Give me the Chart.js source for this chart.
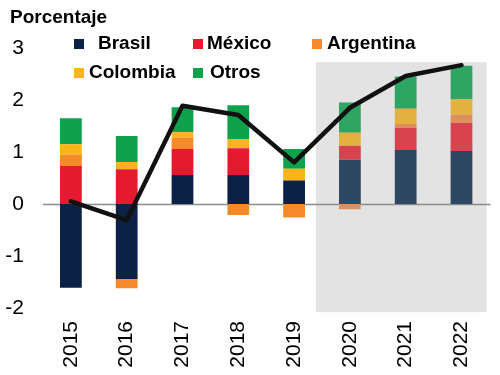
<!DOCTYPE html>
<html><head><meta charset="utf-8">
<script src="https://cdn.jsdelivr.net/npm/chart.js@4/dist/chart.umd.min.js"></script>
<style>
html,body{margin:0;padding:0;background:#fff;}
#wrap{position:relative;width:500px;height:375px;font-family:"Liberation Sans",Arial,sans-serif;overflow:hidden;}
canvas{position:absolute;left:0;top:0;}
.t{position:absolute;font-weight:bold;font-size:19px;line-height:19px;color:#000;white-space:pre;}
.sq{position:absolute;width:10px;height:10px;}
</style></head><body>
<div id="wrap"><canvas id="c" width="500" height="375"></canvas></div>
<script>
// ---- data ----
const years = ['2015','2016','2017','2018','2019','2020','2021','2022'];
const seriesNames = ['Brasil','México','Argentina','Colombia','Otros'];
const brasil    = [-1.61,-1.44,0.56,0.56,0.45,0.85,1.04,1.02];
const mexico    = [0.73,0.67,0.50,0.51,0.00,0.27,0.42,0.54];
const argentina = [0.22,-0.18,0.22,-0.21,-0.26,-0.10,0.08,0.16];
const colombia  = [0.20,0.14,0.10,0.18,0.23,0.25,0.29,0.29];
const otros     = [0.50,0.50,0.48,0.65,0.38,0.58,0.62,0.65];
const total     = [0.05,-0.31,1.89,1.71,0.80,1.85,2.46,2.67];
const yTicks    = [3,2,1,0,-1,-2];
const yAxisTitle = 'Porcentaje';
const forecastFrom = 5; // index of first projected year (2020)

// ---- styles ----
const histColors = ['#0b2145','#e5192f','#f58a2b','#fbb518','#10a14c'];
const projColors = ['#2e4864','#d9434f','#df8f5b','#e3b13f','#2fa564'];
const seriesValues = [brasil, mexico, argentina, colombia, otros];

const colorFor = (s) => years.map((_, i) => i >= forecastFrom ? projColors[s] : histColors[s]);

// legend (HTML, real text)
const wrap = document.getElementById('wrap');
const title = document.createElement('div');
title.className = 't'; title.textContent = yAxisTitle;
title.style.left = '10px'; title.style.top = '7px';
wrap.appendChild(title);
const legendPos = [
  {sx:74, sy:39, tx:98, ty:33},
  {sx:193, sy:39, tx:207, ty:33},
  {sx:312, sy:39, tx:327, ty:33},
  {sx:74, sy:68, tx:89, ty:62},
  {sx:193, sy:68, tx:210, ty:62}
];
seriesNames.forEach((name, s) => {
  const p = legendPos[s];
  const sq = document.createElement('div');
  sq.className = 'sq'; sq.style.left = p.sx + 'px'; sq.style.top = p.sy + 'px';
  sq.style.background = histColors[s];
  wrap.appendChild(sq);
  const t = document.createElement('div');
  t.className = 't'; t.textContent = name;
  t.style.left = p.tx + 'px'; t.style.top = p.ty + 'px';
  wrap.appendChild(t);
});

// shaded projection area
const shade = {
  id: 'shade',
  beforeDatasetsDraw(chart) {
    const {ctx, scales: {x, y}} = chart;
    const x0 = x.getPixelForValue(forecastFrom - 0.61);
    const x1 = x.getPixelForValue(years.length - 1 + 0.45);
    const y0 = y.getPixelForValue(2.73);
    const y1 = y.getPixelForValue(-2.08);
    ctx.save();
    ctx.fillStyle = '#e3e3e3';
    ctx.fillRect(x0, y0, x1 - x0, y1 - y0);
    // zero line
    const yz = Math.round(y.getPixelForValue(0)) + 0.5;
    ctx.strokeStyle = '#8c8c8c';
    ctx.lineWidth = 1.5;
    ctx.beginPath();
    ctx.moveTo(chart.chartArea.left, yz);
    ctx.lineTo(x1 + 4, yz);
    ctx.stroke();
    ctx.restore();
  }
};

const datasets = seriesNames.map((name, s) => ({
  type: 'bar',
  label: name,
  data: seriesValues[s],
  backgroundColor: colorFor(s),
  borderWidth: 0,
  stack: 'bars',
  order: 1,
  barPercentage: 0.39,
  categoryPercentage: 1
}));
datasets.push({
  type: 'line',
  label: 'Total',
  data: total,
  borderColor: '#111',
  borderWidth: 4.5,
  pointRadius: 0,
  tension: 0,
  fill: false,
  stack: 'line',
  order: 0,
  borderJoinStyle: 'round',
  borderCapStyle: 'round'
});

new Chart(document.getElementById('c'), {
  data: { labels: years, datasets },
  plugins: [shade],
  options: {
    responsive: false,
    animation: false,
    devicePixelRatio: 1,
    layout: { padding: { top: 48, right: 5, left: 0, bottom: 0 } },
    plugins: { legend: { display: false }, tooltip: { enabled: false }, title: { display: false } },
    scales: {
      x: {
        stacked: true,
        grid: { display: false, drawTicks: false },
        border: { display: false },
        ticks: {
          color: '#000',
          font: { family: 'Liberation Sans', size: 21 },
          maxRotation: 90, minRotation: 90,
          padding: 13,
          autoSkip: false
        },
        afterFit(scale) { scale.height = 67; }
      },
      y: {
        stacked: true,
        min: -2, max: 3,
        afterBuildTicks(scale) { scale.ticks = yTicks.map(v => ({ value: v })); },
        grid: { display: false, drawTicks: false },
        border: { display: false },
        ticks: {
          color: '#000',
          font: { family: 'Liberation Sans', size: 21 },
          padding: 19
        },
        afterFit(scale) { scale.width = 43; }
      }
    }
  }
});
</script>
</body></html>
